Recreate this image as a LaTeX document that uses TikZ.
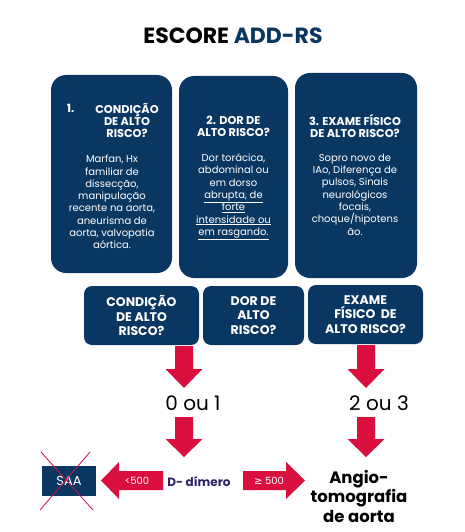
\documentclass[tikz,border=0pt]{standalone}
\usepackage{fontspec}
\setmainfont{Poppins}
\newfontfamily\djv{DejaVu Sans}
\definecolor{navy}{HTML}{0A3762}
\definecolor{crim}{HTML}{DA0F3E}
\definecolor{dnavy}{HTML}{2B2461}
\newcommand\dnarrow[4]{\fill[crim] ({#1-9},#2) -- ({#1+9},#2) -- ({#1+9},#3) -- ({#1+18.5},#3) -- (#1,#4) -- ({#1-18.5},#3) -- ({#1-9},#3) -- cycle;}
\begin{document}
\begin{tikzpicture}[x=1pt,y=-1pt,
  bigbox/.style={fill=navy, rounded corners=15, inner sep=0pt},
  smallbox/.style={fill=navy, rounded corners=8, inner sep=0pt, minimum height=59, text=white, align=center, font=\fontsize{12.5}{14.5}\selectfont\bfseries},
  head/.style={text=white, align=center, inner sep=0pt, font=\fontsize{11.3}{12}\selectfont\bfseries},
  body/.style={text=white, align=center, inner sep=0pt, font=\fontsize{10}{12.3}\selectfont},
  lbl/.style={inner sep=0pt, align=center}]
\useasboundingbox (0,0) rectangle (465,532);
\fill[white] (0,0) rectangle (465,532);

\node[lbl, font=\fontsize{22}{24}\selectfont\bfseries] (title) at (233,36) {ESCORE \textcolor{navy}{ADD-RS}};

% top boxes
\node[bigbox, minimum width=121, minimum height=198] (b1) at (111.5,174) {};
\node[bigbox, minimum width=109, minimum height=202] (b2) at (233.5,177) {};
\node[bigbox, minimum width=122, minimum height=205] (b3) at (356,175.5) {};

\node[head] (h1n) at (70.5,108) {1.};
\node[head] (h1) at (127,120.5) {CONDIÇÃO\\DE ALTO\\RISCO?};
\node[body] (t1) at (112,202) {Marfan, Hx\\familiar de\\dissecção,\\manipulação\\recente na aorta,\\aneurisma de\\aorta, valvopatia\\aórtica.};

\node[head] (h2) at (233.5,126.5) {2. DOR DE\\ALTO RISCO?};
\node[body] (t2) at (233.5,197) {Dor torácica,\\abdominal ou\\em dorso\\\underline{abrupta, de}\\\underline{forte}\\\underline{intensidade ou}\\\underline{em rasgando.}};

\node[head] (h3) at (355,126) {3. EXAME FÍSICO\\DE ALTO RISCO?};
\node[body] (t3) at (355,194.5) {Sopro novo de\\IAo, Diferença de\\pulsos, Sinais\\neurológicos\\focais,\\choque/hipotens\\ão.};

% second row
\node[smallbox, minimum width=115] (c1) at (141.5,315.5) {CONDIÇÃO\\DE ALTO\\RISCO?};
\node[smallbox, minimum width=101] (c2) at (253.5,315.5) {DOR DE\\ALTO\\RISCO?};
\node[smallbox, minimum width=115] (c3) at (365.5,314.5) {EXAME\\FÍSICO~ DE\\ALTO RISCO?};

% down arrows
\dnarrow{184}{346}{369}{388}
\dnarrow{366}{345}{369}{388}
\node[lbl, font=\fontsize{20}{22}\selectfont] (s01) at (193,403) {0 ou 1};
\node[lbl, font=\fontsize{20}{22}\selectfont] (s23) at (379,403) {2 ou 3};
\dnarrow{184}{417}{439}{457}
\dnarrow{366}{417}{439}{457}

% horizontal arrows
\fill[crim] (163,471) -- (119,471) -- (119,462) -- (101,480.5) -- (119,499) -- (119,490) -- (163,490) -- cycle;
\fill[crim] (243,471) -- (286,471) -- (286,462) -- (305,480.5) -- (286,499) -- (286,490) -- (243,490) -- cycle;
\node[lbl, text=white, font=\fontsize{10}{11}\selectfont] (lt) at (137,481) {<500};
\node[lbl, text=white, font=\fontsize{10}{11}\selectfont] (ge) at (269,481) {{\djv ≥} 500};
\node[lbl, text=dnavy, font=\fontsize{12}{13}\selectfont\bfseries] (dd) at (199,482) {D- dímero};

% SAA
\node[fill=navy, minimum width=54, minimum height=30, inner sep=0pt, text=white, font=\fontsize{13}{14}\selectfont] (saa) at (69,481) {SAA};
\draw[crim, line width=0.8pt] (41,452) -- (93,510);
\draw[crim, line width=0.8pt] (90,452) -- (40,510);

\node[lbl, font=\fontsize{16.5}{19.5}\selectfont\bfseries] (angio) at (359,496) {Angio-\\tomografia\\de aorta};
\end{tikzpicture}
\end{document}
